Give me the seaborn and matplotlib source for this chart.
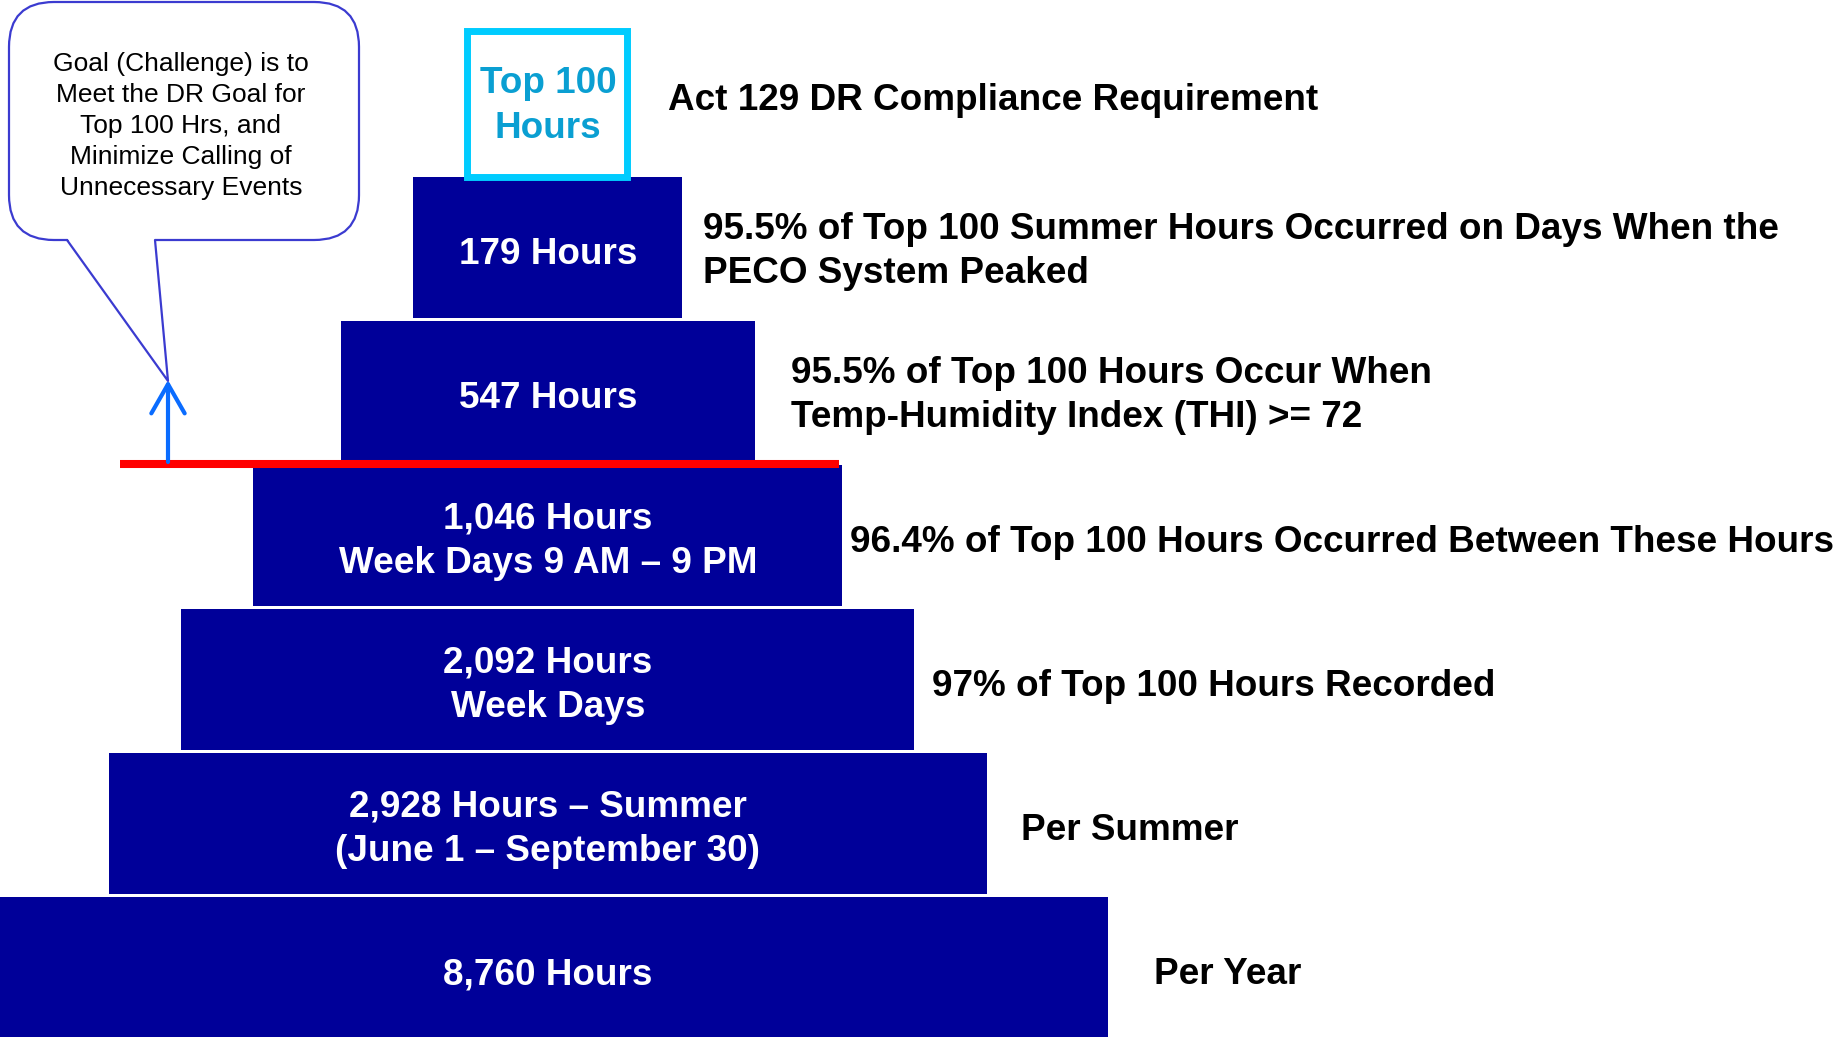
import matplotlib.pyplot as plt
import seaborn as sns
from matplotlib.patches import FancyBboxPatch, Polygon, Rectangle

# pyramid levels, top (narrowest) to bottom
bar_labels = [
    "179 Hours",
    "547 Hours",
    "1,046 Hours\nWeek Days 9 AM – 9 PM",
    "2,092 Hours\nWeek Days",
    "2,928 Hours – Summer\n(June 1 – September 30)",
    "8,760 Hours",
]
descriptions = [
    "95.5% of Top 100 Summer Hours Occurred on Days When the\nPECO System Peaked",
    "95.5% of Top 100 Hours Occur When\nTemp-Humidity Index (THI) >= 72",
    "96.4% of Top 100 Hours Occurred Between These Hours",
    "97% of Top 100 Hours Recorded",
    "Per Summer",
    "Per Year",
]
top_label = "Top 100\nHours"
top_description = "Act 129 DR Compliance Requirement"
callout_text = ("Goal (Challenge) is to\nMeet the DR Goal for\nTop 100 Hrs, and\n"
                "Minimize Calling of\nUnnecessary Events")

# layout (pixel units of the canvas)
bar_widths = [269, 414, 589, 733, 878, 1120]
desc_gap = [21, 36, 8, 18, 34, 46]
cx = 548
row_top, row_pitch, row_h = 177, 144, 141
dy = 7  # text nudge so glyphs sit visually centred

NAVY = "#000099"
CYAN = "#00ccff"

sns.set_theme(style="white")
plt.rcParams["font.family"] = ["Liberation Sans", "DejaVu Sans"]

fig = plt.figure(figsize=(18.39, 10.37), dpi=100)
ax = fig.add_axes([0, 0, 1, 1])
ax.set_xlim(0, 1839)
ax.set_ylim(1037, 0)
ax.axis("off")

centers = [row_top + row_h / 2 + i * row_pitch for i in range(len(bar_widths))]
lefts = [cx - w / 2 for w in bar_widths]
ax.barh(centers, bar_widths, left=lefts, height=row_h, color=NAVY, edgecolor="none", zorder=2)

fs = 26.6
ls = 1.35
for i, (lab, desc) in enumerate(zip(bar_labels, descriptions)):
    ax.text(cx, centers[i] + dy - ("\n" in lab), lab, color="white", fontsize=fs,
            fontweight="bold", ha="center", va="center", linespacing=ls, zorder=3)
    ax.text(lefts[i] + bar_widths[i] + desc_gap[i], centers[i] + dy - 3 * ("\n" in desc), desc,
            color="black", fontsize=fs, fontweight="bold", ha="left", va="center",
            linespacing=ls, zorder=3)

# top box
ax.add_patch(Rectangle((467, 31), 160, 146, facecolor="white", edgecolor=CYAN,
                       linewidth=5, zorder=3))
ax.text(cx, 106, top_label, color="#0a9fd2", fontsize=fs, fontweight="bold",
        ha="center", va="center", linespacing=ls, zorder=4)
ax.text(668, 100, top_description, color="black", fontsize=fs, fontweight="bold",
        ha="left", va="center", zorder=4)

# red threshold line and arrow
ax.plot([120, 839], [464, 464], color="#ff0000", linewidth=5.8, solid_capstyle="butt", zorder=5)
ax.annotate("", xy=(168, 380), xytext=(168, 462),
            arrowprops=dict(arrowstyle="->,head_length=0.7,head_width=0.4", color="#0a6cff",
                            lw=3, mutation_scale=30, shrinkA=0, shrinkB=0), zorder=6)

# callout bubble
edge = "#3b3bd0"
ax.add_patch(FancyBboxPatch((9, 2), 350, 238, boxstyle="round,pad=0,rounding_size=45",
                            facecolor="white", edgecolor=edge, linewidth=1.6, zorder=6))
ax.add_patch(Polygon([(67, 238), (155, 238), (168, 381)], closed=True,
                     facecolor="white", edgecolor="none", zorder=7))
ax.plot([67, 168, 155], [240, 381, 240], color=edge, linewidth=1.6, zorder=8)
ax.text(181, 126, callout_text, color="black", fontsize=19, ha="center", va="center",
        linespacing=1.36, zorder=8)

fig.savefig("out.png", dpi=100)
